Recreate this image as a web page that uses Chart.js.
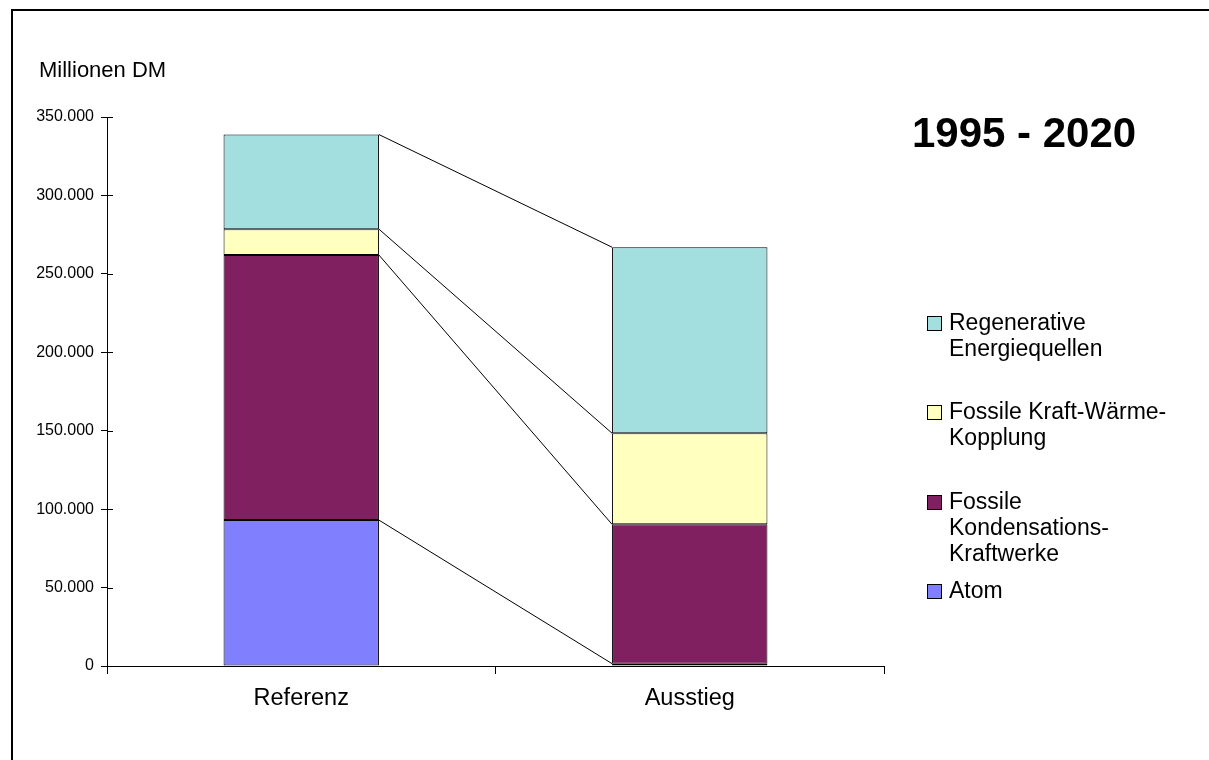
<!DOCTYPE html>
<html lang="de">
<head>
<meta charset="utf-8">
<title>Stromerzeugungskosten 1995 - 2020</title>
<script src="https://cdn.jsdelivr.net/npm/chart.js@4.4.0/dist/chart.umd.min.js"></script>
<style>
  html, body { margin: 0; padding: 0; background: #fff; }
  #wrap { position: relative; width: 1209px; height: 760px; overflow: hidden; }
  canvas { display: block; }
</style>
</head>
<body>
<div id="wrap"><canvas id="kosten" width="1209" height="760"></canvas></div>
<script>
// Szenarien (Kategorien) und Werte in Millionen DM
const szenarien = ["Referenz", "Ausstieg"];
const atom = [93000, 1500];
const kondensation = [169000, 88800];
const kwk = [16500, 58100];
const regenerativ = [60300, 118600];
const yTicks = [0, 50000, 100000, 150000, 200000, 250000, 300000, 350000];

// Legendentexte, Zeilen wie umbrochen
const namen = {
  atom: ["Atom"],
  kondensation: ["Fossile", "Kondensations-", "Kraftwerke"],
  kwk: ["Fossile Kraft-Wärme-", "Kopplung"],
  regenerativ: ["Regenerative", "Energiequellen"]
};

const farben = {
  atom: "#8080FF",
  kondensation: "#802060",
  kwk: "#FFFFC0",
  regenerativ: "#A4DFE0"
};

const schrift = "'Liberation Sans', Arial, sans-serif";

function tausender(v) {
  return String(v).replace(/\B(?=(\d{3})+(?!\d))/g, ".");
}

function datensatz(key, werte) {
  return {
    label: namen[key].join(" "),
    data: werte,
    backgroundColor: farben[key],
    borderColor: "#000",
    borderWidth: 1,
    borderSkipped: false,
    barPercentage: 0.4,
    categoryPercentage: 1.0
  };
}

// Verbindungslinien zwischen den Segmentoberkanten beider Säulen
const verbinder = {
  id: "verbinder",
  afterDatasetsDraw(chart) {
    const ctx = chart.ctx;
    const y = chart.scales.y;
    const summe = [0, 0];
    ctx.save();
    ctx.strokeStyle = "#000";
    ctx.lineWidth = 1;
    chart.data.datasets.forEach((ds, i) => {
      const meta = chart.getDatasetMeta(i);
      summe[0] += ds.data[0];
      summe[1] += ds.data[1];
      const a = meta.data[0].getProps(["x", "width"], true);
      const b = meta.data[1].getProps(["x", "width"], true);
      ctx.beginPath();
      ctx.moveTo(a.x + a.width / 2, y.getPixelForValue(summe[0]));
      ctx.lineTo(b.x - b.width / 2, y.getPixelForValue(summe[1]));
      ctx.stroke();
    });
    ctx.restore();
  }
};

// Rahmen, Achsenbeschriftung, Titel, Legende und innere Teilstriche
const beiwerk = {
  id: "beiwerk",
  afterDraw(chart) {
    const ctx = chart.ctx;
    const y = chart.scales.y;
    const left = chart.chartArea.left;
    ctx.save();

    // Teilstriche der y-Achse über die Achse hinaus
    ctx.strokeStyle = "#000";
    ctx.lineWidth = 1;
    y.ticks.forEach(t => {
      const py = Math.round(y.getPixelForValue(t.value)) + 0.5;
      ctx.beginPath();
      ctx.moveTo(left, py);
      ctx.lineTo(left + 6, py);
      ctx.stroke();
    });

    // Rahmen
    ctx.lineWidth = 2;
    ctx.beginPath();
    ctx.moveTo(12, 760);
    ctx.lineTo(12, 10);
    ctx.lineTo(1209, 10);
    ctx.stroke();

    ctx.fillStyle = "#000";
    ctx.textBaseline = "alphabetic";
    ctx.textAlign = "left";
    ctx.font = "22px " + schrift;
    ctx.fillText("Millionen DM", 39, 77);

    ctx.font = "bold 42px " + schrift;
    ctx.fillText("1995 - 2020", 912, 147);

    // Legende von oben nach unten: letzter Datensatz zuerst
    const reihen = ["regenerativ", "kwk", "kondensation", "atom"];
    const tops = [316, 405, 495, 584];
    ctx.font = "23px " + schrift;
    ctx.textBaseline = "middle";
    reihen.forEach((key, i) => {
      const top = tops[i];
      ctx.fillStyle = farben[key];
      ctx.fillRect(927, top, 15, 15);
      ctx.lineWidth = 1;
      ctx.strokeStyle = "#000";
      ctx.strokeRect(927.5, top + 0.5, 14, 14);
      ctx.fillStyle = "#000";
      namen[key].forEach((zeile, j) => {
        ctx.fillText(zeile, 949, top + 8 + j * 26);
      });
    });
    ctx.restore();
  }
};

new Chart(document.getElementById("kosten"), {
  type: "bar",
  data: {
    labels: szenarien,
    datasets: [
      datensatz("atom", atom),
      datensatz("kondensation", kondensation),
      datensatz("kwk", kwk),
      datensatz("regenerativ", regenerativ)
    ]
  },
  options: {
    responsive: false,
    animation: false,
    devicePixelRatio: 1,
    layout: { padding: { left: 12, right: 325, top: 117, bottom: 34 } },
    plugins: {
      legend: { display: false },
      title: { display: false },
      tooltip: { enabled: false }
    },
    scales: {
      x: {
        stacked: true,
        afterFit(scale) { scale.height = 60; },
        border: { color: "#000", width: 1 },
        grid: {
          display: true,
          drawOnChartArea: false,
          offset: true,
          tickLength: 8,
          color: "#000"
        },
        ticks: {
          color: "#000",
          padding: 10,
          font: { family: schrift, size: 23.5 }
        }
      },
      y: {
        stacked: true,
        min: 0,
        max: 350000,
        afterFit(scale) { scale.width = 95; },
        afterBuildTicks(scale) {
          scale.ticks = yTicks.map(v => ({ value: v }));
        },
        border: { color: "#000", width: 1 },
        grid: {
          display: true,
          drawOnChartArea: false,
          tickLength: 6,
          color: "#000"
        },
        ticks: {
          color: "#000",
          padding: 7,
          font: { family: schrift, size: 16 },
          callback: v => tausender(v)
        }
      }
    }
  },
  plugins: [verbinder, beiwerk]
});
</script>
</body>
</html>
